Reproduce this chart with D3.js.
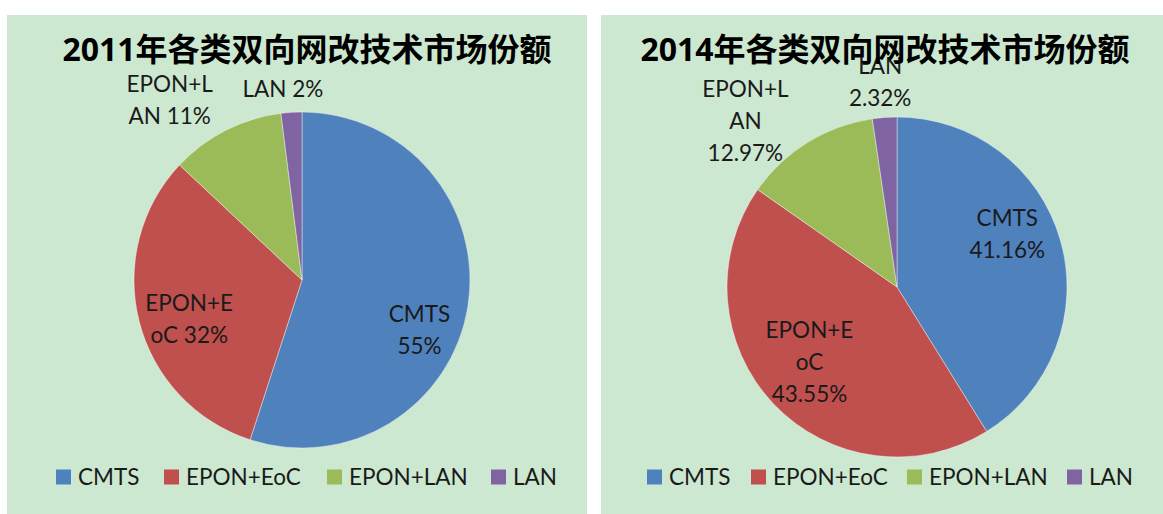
<!DOCTYPE html>
<html>
<head>
<meta charset="utf-8">
<script src="https://cdn.jsdelivr.net/npm/d3@7"></script>
<style>
  html, body { margin: 0; padding: 0; background: #fff; }
  svg { display: block; }
  text { font-family: Lato, "Noto Sans", "Noto Sans CJK SC", sans-serif; }
  .title { font-family: "Noto Sans", "Noto Sans CJK SC", sans-serif; font-weight: bold; }
</style>
</head>
<body>
<div id="graphic"></div>
<script>
// categories and values for the two pies
const categories = ['CMTS', 'EPON+EoC', 'EPON+LAN', 'LAN'];
const values2011 = [55, 32, 11, 2];
const values2014 = [41.16, 43.55, 12.97, 2.32];
const titles = ['2011年各类双向网改技术市场份额', '2014年各类双向网改技术市场份额'];

// data labels, as Excel wrapped them
const labels2011 = [['CMTS', '55%'], ['EPON+E', 'oC 32%'], ['EPON+L', 'AN 11%'], ['LAN 2%']];
const labels2014 = [['CMTS', '41.16%'], ['EPON+E', 'oC', '43.55%'], ['EPON+L', 'AN', '12.97%'], ['LAN', '2.32%']];

const colours = ['#4f81bd', '#c0504d', '#9bbb59', '#8064a2'];
const bg = '#cde8d0';

const W = 1163, H = 514;
const svg = d3.select('#graphic').append('svg').attr('width', W).attr('height', H);

// panel layouts (label block placed by angle from 12 o'clock and a radius factor)
const panels = [
	{ x: 7, w: 580, cx: 302, cy: 280, r: 168, titleX: 307, values: values2011, labels: labels2011,
	  labelPos: [[113, 0.76], [251, 0.71], [323.7, 1.33], [354.3, 1.14]],
	  legendX: [56, 164, 327, 491] },
	{ x: 601, w: 562, cx: 897, cy: 287, r: 170, titleX: 885, values: values2014, labels: labels2014,
	  labelPos: [[64.3, 0.72], [229.2, 0.68], [317.5, 1.32], [355.3, 1.21]],
	  legendX: [647, 751, 907, 1067] }
];

const pie = d3.pie().sort(null).value(d => d);

panels.forEach((p, pi) => {
	const g = svg.append('g');
	g.append('rect')
		.attr('x', p.x).attr('y', 15)
		.attr('width', p.w).attr('height', H - 15)
		.attr('fill', bg);

	const arc = d3.arc().innerRadius(0).outerRadius(p.r);
	const pg = g.append('g').attr('transform', `translate(${p.cx},${p.cy})`);
	pg.selectAll('path')
		.data(pie(p.values))
		.join('path')
		.attr('d', arc)
		.attr('fill', (d, i) => colours[i])
		.attr('stroke', 'rgba(255,255,255,0.5)')
		.attr('stroke-width', 0.8);

	// data labels
	const lineH = 32;
	p.labels.forEach((lines, i) => {
		const a = p.labelPos[i][0] * Math.PI / 180;
		const rr = p.labelPos[i][1] * p.r;
		const lx = p.cx + Math.sin(a) * rr;
		const ly = p.cy - Math.cos(a) * rr;
		const t = g.append('text')
			.attr('text-anchor', 'middle')
			.attr('font-size', 22.5)
			.attr('fill', '#1a1a1a');
		lines.forEach((s, j) => {
			t.append('tspan')
				.attr('x', lx)
				.attr('y', ly + (j - (lines.length - 1) / 2) * lineH)
				.attr('dy', '0.35em')
				.text(s);
		});
	});

	// title
	g.append('text')
		.attr('class', 'title')
		.attr('x', p.titleX)
		.attr('y', 61)
		.attr('text-anchor', 'middle')
		.attr('font-size', 32)
		.attr('fill', '#000')
		.text(titles[pi]);

	// legend
	categories.forEach((c, i) => {
		const lg = g.append('g').attr('transform', `translate(${p.legendX[i]},477)`);
		lg.append('rect')
			.attr('x', 0).attr('y', -7.5)
			.attr('width', 15).attr('height', 15)
			.attr('fill', colours[i]);
		lg.append('text')
			.attr('x', 22).attr('y', 0)
			.attr('dy', '0.35em')
			.attr('font-size', 22.5)
			.attr('fill', '#1a1a1a')
			.text(c);
	});
});
</script>
</body>
</html>
